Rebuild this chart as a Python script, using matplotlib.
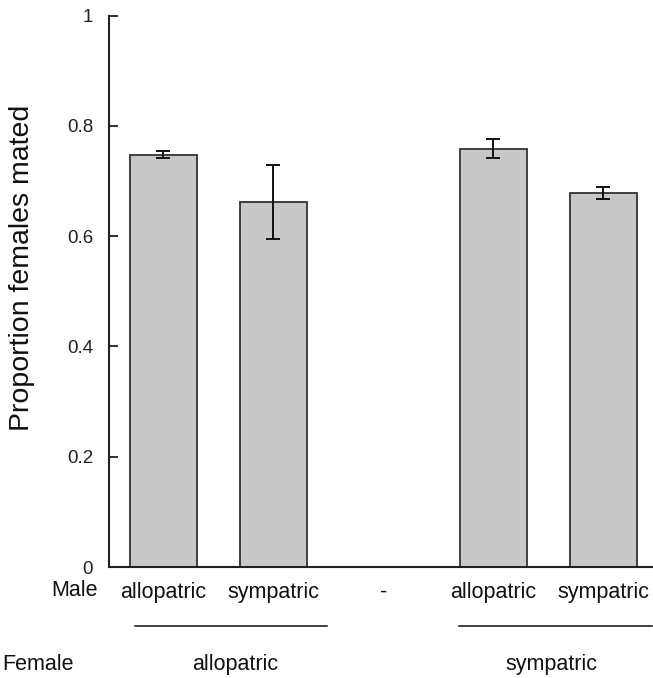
import matplotlib.pyplot as plt
import matplotlib.transforms as mtransforms

plt.rcParams['font.family'] = ['Liberation Sans', 'DejaVu Sans']

# data
male_labels = ["allopatric", "sympatric", "-", "allopatric", "sympatric"]
bar_pos = [0, 1, 3, 4]
prop_mated = [0.748, 0.662, 0.759, 0.679]
prop_err = [0.006, 0.067, 0.017, 0.011]
female_groups = ["allopatric", "sympatric"]
female_label_x = [0.65, 3.53]
female_line_x = [(-0.26, 1.49), (2.69, 4.44)]

fig = plt.figure(figsize=(6.53, 6.78), dpi=100)
ax = fig.add_axes([109 / 653, 111 / 678, 1 - 109 / 653, 551.3 / 678])

ax.bar(bar_pos, prop_mated, width=0.61, color="#c8c8c8", edgecolor="#333333",
       linewidth=1.3, zorder=2)
ax.errorbar(bar_pos, prop_mated, yerr=prop_err, fmt="none", ecolor="#111111",
            elinewidth=1.4, capsize=5, capthick=1.4, zorder=3)

ax.set_xlim(-0.495, 4.45)
ax.set_ylim(0, 1)
ax.set_yticks([0, 0.2, 0.4, 0.6, 0.8, 1])
ax.set_yticklabels(["0", "0.2", "0.4", "0.6", "0.8", "1"])
ax.set_xticks(range(len(male_labels)))
ax.set_xticklabels(male_labels)

for side in ["top", "right"]:
    ax.spines[side].set_visible(False)
for side in ["left", "bottom"]:
    ax.spines[side].set_linewidth(1.5)
    ax.spines[side].set_color("#222222")

ax.tick_params(axis="y", direction="in", length=6.5, width=1.3, pad=11.5,
               labelsize=13.5, colors="#222222")
ax.tick_params(axis="x", length=0, pad=10.5, labelsize=15.5, colors="#111111")

fig.text(22 / 653, 1 - 267.5 / 678, "Proportion females mated", rotation=90,
         ha="center", va="center", fontsize=20.5, color="#111111")

trans = mtransforms.blended_transform_factory(ax.transData, ax.transAxes)
for (x0, x1), lx, name in zip(female_line_x, female_label_x, female_groups):
    ax.plot([x0, x1], [-0.107, -0.107], transform=trans, color="#111111",
            linewidth=1.1, clip_on=False)
    ax.text(lx, -0.176, name, transform=trans, ha="center", va="center",
            fontsize=15.5, color="#111111")

fig.text(98 / 653, 1 - 591 / 678, "Male", ha="right", va="center",
         fontsize=15.5, color="#111111")
fig.text(2 / 653, 1 - 664 / 678, "Female", ha="left", va="center",
         fontsize=15.5, color="#111111")

fig.savefig("out.png", dpi=100)
